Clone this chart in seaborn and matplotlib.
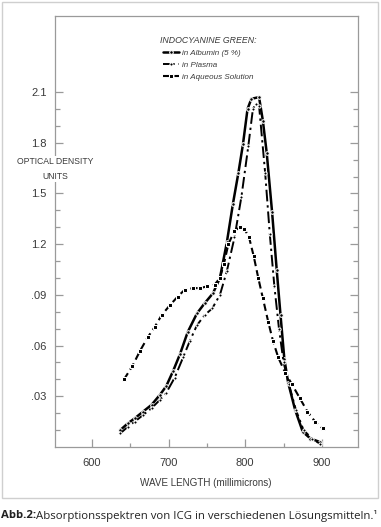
import numpy as np
import pandas as pd
import matplotlib
matplotlib.use("Agg")
import matplotlib.pyplot as plt
import seaborn as sns
from matplotlib import font_manager
from matplotlib.patches import Rectangle

# Datos (longitud de onda en nm, densidad óptica)
wl_albumin = [637, 647, 656, 667, 678, 689, 697, 706, 715, 725, 737, 747, 758, 767,
              776, 784, 791, 797, 803, 808, 818, 823, 828, 835, 841, 846, 851, 856,
              865, 875, 885, 897]
od_albumin = [0.10, 0.14, 0.17, 0.21, 0.25, 0.31, 0.36, 0.45, 0.55, 0.68, 0.79, 0.85,
              0.91, 1.00, 1.21, 1.44, 1.62, 1.79, 2.00, 2.06, 2.07, 1.93, 1.74, 1.39,
              1.05, 0.78, 0.52, 0.38, 0.22, 0.09, 0.05, 0.03]

wl_plasma = [637, 647, 656, 667, 678, 689, 697, 708, 719, 728, 737, 747, 757, 767,
             776, 786, 795, 804, 810, 814, 818, 826, 832, 838, 844, 850, 857, 866,
             876, 887, 897]
od_plasma = [0.08, 0.12, 0.15, 0.19, 0.23, 0.28, 0.32, 0.41, 0.53, 0.63, 0.72, 0.78,
             0.82, 0.90, 1.04, 1.24, 1.48, 1.78, 2.00, 2.03, 2.02, 1.62, 1.26, 0.95,
             0.70, 0.50, 0.37, 0.22, 0.10, 0.05, 0.02]

wl_aqueous = [642, 653, 663, 673, 682, 691, 702, 712, 721, 732, 741, 750, 760, 767,
              772, 778, 786, 793, 799, 805, 811, 817, 823, 830, 836, 843, 852, 861,
              871, 881, 891, 901]
od_aqueous = [0.40, 0.48, 0.57, 0.65, 0.71, 0.78, 0.84, 0.89, 0.93, 0.94, 0.94, 0.95,
              0.96, 1.00, 1.08, 1.20, 1.28, 1.30, 1.29, 1.24, 1.13, 1.00, 0.88, 0.74,
              0.63, 0.53, 0.44, 0.37, 0.29, 0.21, 0.15, 0.11]

series_labels = ["in Albumin (5 %)", "in Plasma", "in Aqueous Solution"]
y_tick_vals = [0.3, 0.6, 0.9, 1.2, 1.5, 1.8, 2.1]
y_tick_text = [".03", ".06", ".09", "1.2", "1.5", "1.8", "2.1"]
x_tick_vals = [600, 700, 800, 900]

sns.set_theme(style="white")
installed = {f.name for f in font_manager.fontManager.ttflist}
narrow = "Liberation Sans Narrow" if "Liberation Sans Narrow" in installed else "Liberation Sans"
plt.rcParams["font.family"] = [narrow, "DejaVu Sans"]

grey = "#9a9a9a"
txt = "#3a3a3a"

fig = plt.figure(figsize=(3.81, 5.27), dpi=100)
ax = fig.add_axes([55 / 381, 1 - 447 / 527, 303 / 381, 431 / 527])

df_alb = pd.DataFrame({"wl": wl_albumin, "od": od_albumin})
df_pla = pd.DataFrame({"wl": wl_plasma, "od": od_plasma})
df_aq = pd.DataFrame({"wl": wl_aqueous, "od": od_aqueous})

sns.lineplot(data=df_alb, x="wl", y="od", ax=ax, color="black", linewidth=1.8,
             marker="o", markersize=2.6, label=series_labels[0])
sns.lineplot(data=df_pla, x="wl", y="od", ax=ax, color="black", linewidth=1.4,
             marker="o", markersize=2.3, label=series_labels[1])
ax.lines[-1].set_dashes([6, 2, 1.2, 2])
sns.lineplot(data=df_aq, x="wl", y="od", ax=ax, color="black", linewidth=1.5,
             marker="s", markersize=2.3, label=series_labels[2])
ax.lines[-1].set_dashes([3.5, 2])

ax.set_xlim(552, 947)
ax.set_ylim(0, 2.55)
ax.set_xticks(x_tick_vals)
ax.set_xticks([650, 750, 850], minor=True)
ax.set_yticks(y_tick_vals)
ax.set_yticklabels(y_tick_text)
ax.set_yticks([v / 10 for v in range(1, 21) if v % 3 != 0], minor=True)
ax.set_xlabel("")
ax.set_ylabel("")

for s in ax.spines.values():
    s.set_color(grey)
    s.set_linewidth(0.9)
ax.tick_params(which="both", direction="in", colors=grey, labelcolor=txt,
               right=True, left=True, bottom=True, top=False, labelsize=8)
ax.tick_params(axis="y", which="major", length=6, width=0.9, pad=6)
ax.tick_params(axis="y", which="minor", length=3.5, width=0.9)
ax.tick_params(axis="x", which="major", length=5.5, width=0.9, pad=8)
ax.tick_params(axis="x", which="minor", length=3, width=0.9)

leg = ax.legend(title="INDOCYANINE GREEN:", loc="upper center",
                bbox_to_anchor=(0.505, 0.962), frameon=False, fontsize=5.8,
                title_fontsize=6.3, handlelength=2.0, labelspacing=0.55,
                handletextpad=0.4, borderaxespad=0)
leg.get_title().set_style("italic")
leg.get_title().set_color(txt)
for t in leg.get_texts():
    t.set_style("italic")
    t.set_color(txt)

fig.text(55 / 381, 1 - 169 / 527, "OPTICAL DENSITY\nUNITS", ha="center",
         va="center", fontsize=6.2, color=txt, linespacing=1.8,
         bbox=dict(facecolor="white", edgecolor="none", pad=1))
fig.text(206 / 381, 1 - 483 / 527, "WAVE LENGTH (millimicrons)", ha="center",
         va="center", fontsize=7.1, color=txt)

# Marco gris alrededor de la figura
fig.patches.append(Rectangle((2 / 381, 1 - 498 / 527), 376 / 381, 496 / 527,
                             transform=fig.transFigure, fill=False,
                             edgecolor="#cfcfcf", linewidth=1))

# Pie de figura
cap_y = 1 - 516 / 527
t1 = fig.text(1 / 381, cap_y, "Abb.2:", fontsize=8.2, fontweight="bold",
              color="#222222", va="center", family=["Open Sans", "DejaVu Sans"])
fig.canvas.draw()
bb = t1.get_window_extent()
fig.text(bb.x1 / fig.bbox.width, cap_y,
         "Absorptionsspektren von ICG in verschiedenen Lösungsmitteln.¹",
         fontsize=8.2, color="#222222", va="center",
         family=["Open Sans", "DejaVu Sans"])

fig.savefig("out.png", dpi=100)
